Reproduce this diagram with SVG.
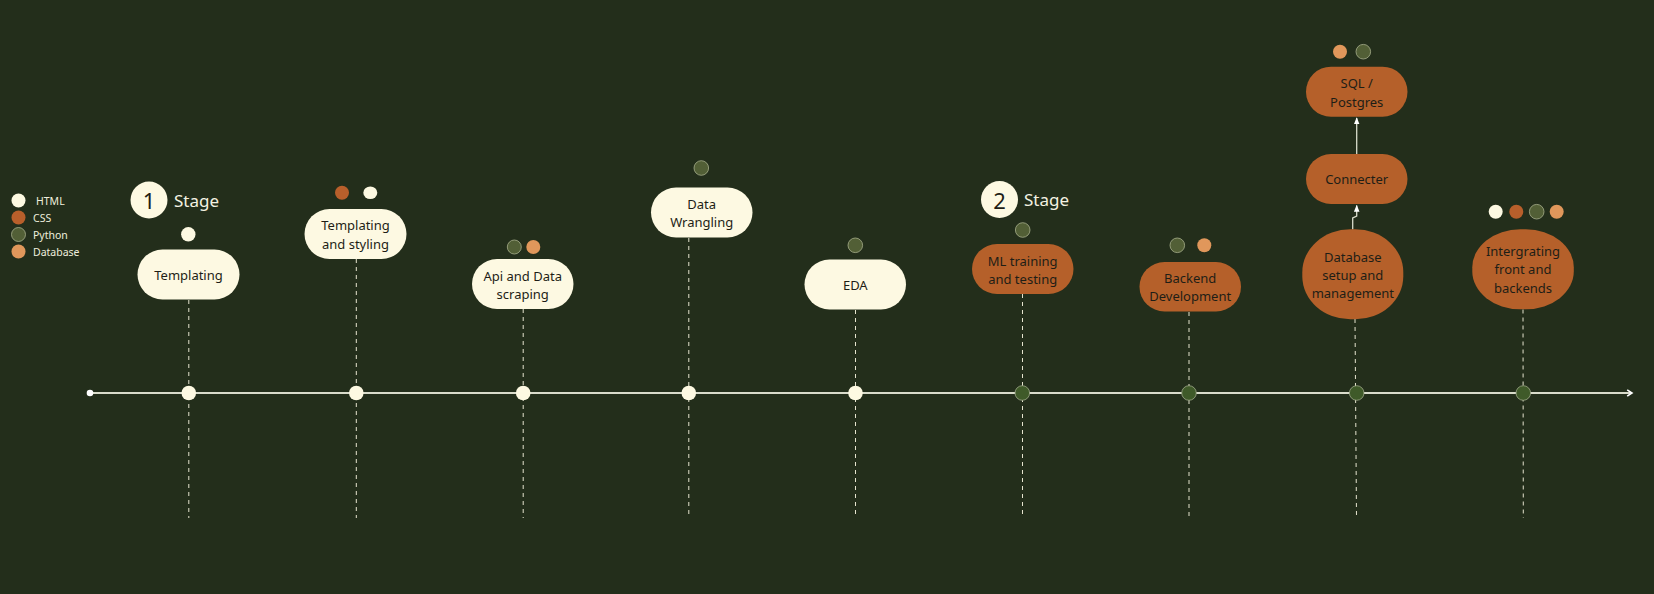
<svg xmlns="http://www.w3.org/2000/svg" width="1654" height="594" viewBox="0 0 1654 594">
<defs>
<style>
.bg{fill:#232e1b}
.cream{fill:#fdf9e2}
.orange{fill:#b5602a}
.html{fill:#fdf9e2}
.css{fill:#b85f2b}
.py{fill:#525f36;stroke:#a7ae8c;stroke-width:0.8}
.db{fill:#e0975b}
.lbl{font-family:"Noto Sans","Open Sans",sans-serif;font-size:13px;fill:#1e1e16;text-anchor:middle;dominant-baseline:central}
.leg{font-family:"Noto Sans","Open Sans",sans-serif;font-size:10.5px;fill:#eeeedd;dominant-baseline:central}
.stage{font-family:"Noto Sans","Open Sans",sans-serif;font-size:17px;fill:#f4f2e2;dominant-baseline:central}
.num{font-family:"Noto Sans","Open Sans",sans-serif;font-size:22px;fill:#1e1e16;text-anchor:middle;dominant-baseline:central}
.dash{stroke:#e6e4cf;stroke-width:1;stroke-dasharray:4 4;fill:none}
.tl{stroke:#d9dccb;stroke-width:2;fill:none}
.tdc{fill:#fdf9e2}
.tdg{fill:#3f5a29;stroke:#9ea889;stroke-width:0.8}
.link{stroke:#d9dccb;stroke-width:1.3;fill:none}
</style>
<marker id="chev" viewBox="0 0 10 10" refX="8" refY="5" markerWidth="8" markerHeight="8" markerUnits="userSpaceOnUse" orient="auto">
<path d="M2,1 L8,5 L2,9" fill="none" stroke="#ffffff" stroke-width="2"/>
</marker>
<marker id="tri" viewBox="0 0 10 10" refX="9" refY="5" markerWidth="7" markerHeight="7" markerUnits="userSpaceOnUse" orient="auto">
<path d="M0,1 L10,5 L0,9 Z" fill="#ffffff"/>
</marker>
</defs>
<rect class="bg" x="0" y="0" width="1654" height="594"/>

<g id="legend">
<circle class="html" cx="18.5" cy="200.5" r="7"/>
<text class="leg" x="36" y="200.5">HTML</text>
<circle class="css" cx="18.5" cy="217.5" r="7"/>
<text class="leg" x="33" y="217.5">CSS</text>
<circle class="py" cx="18.5" cy="234.5" r="7"/>
<text class="leg" x="33" y="234.5">Python</text>
<circle class="db" cx="18.5" cy="251.5" r="7"/>
<text class="leg" x="33" y="251.5">Database</text>
</g>

<g id="stage1">
<circle class="cream" cx="149" cy="200" r="18.5"/>
<text class="num" x="149" y="200">1</text>
<text class="stage" x="174" y="200">Stage</text>
</g>
<g id="stage2">
<circle class="cream" cx="999.5" cy="199.5" r="18.5"/>
<text class="num" x="999.5" y="199.5">2</text>
<text class="stage" x="1024" y="199.5">Stage</text>
</g>

<g id="connectors">
<line class="tl" x1="90" y1="393" x2="1632" y2="393" marker-end="url(#chev)"/>
<circle cx="90" cy="393" r="3.3" fill="#ffffff"/>
<line class="dash" x1="188.8" y1="300" x2="188.8" y2="518"/>
<line class="dash" x1="356.3" y1="259" x2="356.3" y2="518"/>
<line class="dash" x1="523.2" y1="309" x2="523.2" y2="518"/>
<line class="dash" x1="688.8" y1="238" x2="688.8" y2="518"/>
<line class="dash" x1="855.5" y1="310" x2="855.5" y2="518"/>
<line class="dash" x1="1022.5" y1="294" x2="1022.5" y2="518"/>
<line class="dash" x1="1189" y1="312" x2="1189" y2="518"/>
<line class="dash" x1="1355" y1="319" x2="1356.5" y2="518"/>
<line class="dash" x1="1523" y1="309.5" x2="1523.3" y2="518"/>
<path class="link" d="M1352.7,229.5 L1352.7,218 L1356.7,216 L1356.7,205.5" marker-end="url(#tri)"/>
<path class="link" d="M1356.7,154 L1356.7,118" marker-end="url(#tri)"/>
<circle class="tdc" cx="188.8" cy="393" r="7.3"/>
<circle class="tdc" cx="356.3" cy="393" r="7.3"/>
<circle class="tdc" cx="523.2" cy="393" r="7.3"/>
<circle class="tdc" cx="688.8" cy="393" r="7.3"/>
<circle class="tdc" cx="855.5" cy="393" r="7.3"/>
<circle class="tdg" cx="1022.3" cy="393" r="7.3"/>
<circle class="tdg" cx="1189" cy="393" r="7.3"/>
<circle class="tdg" cx="1356.7" cy="393" r="7.3"/>
<circle class="tdg" cx="1523.3" cy="393" r="7.3"/>
</g>

<g id="n-templating">
<circle class="html" cx="188.3" cy="234.3" r="7.2"/>
<rect class="cream" x="137.5" y="249.5" width="102" height="50" rx="25"/>
<text class="lbl" x="188.5" y="275">Templating</text>
</g>

<g id="n-templating-styling">
<circle class="css" cx="342" cy="192.7" r="7"/>
<ellipse class="html" cx="370.3" cy="192.7" rx="7" ry="6.3"/>
<rect class="cream" x="304.5" y="209" width="102" height="50" rx="25"/>
<text class="lbl" x="355.5" y="225">Templating</text>
<text class="lbl" x="355.5" y="244">and styling</text>
</g>

<g id="n-api">
<circle class="py" cx="514.3" cy="247" r="7"/>
<circle class="db" cx="533.3" cy="247" r="7"/>
<rect class="cream" x="472" y="259" width="101.5" height="50" rx="25"/>
<text class="lbl" x="522.7" y="275.5">Api and Data</text>
<text class="lbl" x="522.7" y="294">scraping</text>
</g>

<g id="n-wrangling">
<circle class="py" cx="701.3" cy="168" r="7.3"/>
<rect class="cream" x="651" y="187.5" width="101.5" height="50" rx="25"/>
<text class="lbl" x="701.7" y="203.5">Data</text>
<text class="lbl" x="701.7" y="222">Wrangling</text>
</g>

<g id="n-eda">
<circle class="py" cx="855.3" cy="245.3" r="7.3"/>
<rect class="cream" x="804.5" y="259.5" width="101.5" height="50" rx="25"/>
<text class="lbl" x="855.3" y="284.5">EDA</text>
</g>

<g id="n-ml">
<circle class="py" cx="1022.7" cy="230" r="7.3"/>
<rect class="orange" x="972" y="244" width="101.5" height="50" rx="25"/>
<text class="lbl" x="1022.7" y="260.5">ML training</text>
<text class="lbl" x="1022.7" y="279">and testing</text>
</g>

<g id="n-backend">
<circle class="py" cx="1177.3" cy="245.3" r="7.3"/>
<circle class="db" cx="1204.3" cy="245.3" r="7"/>
<rect class="orange" x="1139.5" y="262" width="101.5" height="49.5" rx="25"/>
<text class="lbl" x="1190.2" y="278">Backend</text>
<text class="lbl" x="1190.2" y="296.3">Development</text>
</g>

<g id="n-sql">
<circle class="db" cx="1340" cy="51.7" r="7"/>
<circle class="py" cx="1363.3" cy="51.7" r="7.3"/>
<rect class="orange" x="1306" y="66.7" width="101.5" height="50" rx="25"/>
<text class="lbl" x="1356.7" y="83.3">SQL /</text>
<text class="lbl" x="1356.7" y="101.7">Postgres</text>
</g>

<g id="n-connecter">
<rect class="orange" x="1306" y="154" width="101.5" height="50" rx="25"/>
<text class="lbl" x="1356.7" y="179">Connecter</text>
</g>

<g id="n-database">
<rect class="orange" x="1302.3" y="229.3" width="101" height="90" rx="48" ry="43"/>
<text class="lbl" x="1352.8" y="256.5">Database</text>
<text class="lbl" x="1352.8" y="275">setup and</text>
<text class="lbl" x="1352.8" y="293.3">management</text>
</g>

<g id="n-integrating">
<circle class="html" cx="1495.7" cy="211.7" r="7"/>
<circle class="css" cx="1516.3" cy="211.7" r="7"/>
<circle class="py" cx="1536.7" cy="211.7" r="7.3"/>
<circle class="db" cx="1556.7" cy="211.7" r="7"/>
<rect class="orange" x="1472.3" y="229.3" width="101.5" height="80" rx="48" ry="38"/>
<text class="lbl" x="1523" y="251">Intergrating</text>
<text class="lbl" x="1523" y="269.3">front and</text>
<text class="lbl" x="1523" y="287.7">backends</text>
</g>
</svg>
